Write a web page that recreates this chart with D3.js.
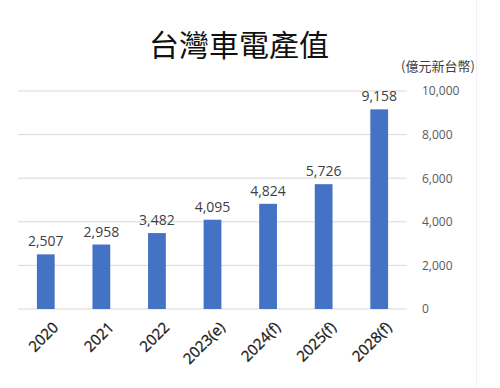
<!DOCTYPE html>
<html>
<head>
<meta charset="utf-8">
<script src="https://cdn.jsdelivr.net/npm/d3@7"></script>
<style>
  body { margin: 0; background: #fff; }
  svg { font-family: "Noto Sans CJK TC", "Open Sans", sans-serif; }
</style>
</head>
<body>
<svg id="chart" width="500" height="388"></svg>
<script>
// Data
const years = ["2020", "2021", "2022", "2023(e)", "2024(f)", "2025(f)", "2028(f)"];
const values = [2507, 2958, 3482, 4095, 4824, 5726, 9158];
const yTicks = [0, 2000, 4000, 6000, 8000, 10000];

const svg = d3.select("#chart");
const margin = { top: 91, right: 93, bottom: 79, left: 18 };
const width = 500, height = 388;
const plotWidth = width - margin.left - margin.right;
const plotHeight = height - margin.top - margin.bottom;

const g = svg.append("g").attr("transform", `translate(${margin.left},${margin.top})`);

const x = d3.scaleBand().domain(years).range([0, plotWidth]).paddingInner(0.68).paddingOuter(0.34);
const y = d3.scaleLinear().domain([0, 10000]).range([plotHeight, 0]);

// Gridlines
g.selectAll(".grid")
  .data(yTicks)
  .enter()
  .append("line")
  .attr("x1", 0)
  .attr("x2", plotWidth)
  .attr("y1", d => y(d))
  .attr("y2", d => y(d))
  .attr("stroke", "#d9d9d9")
  .attr("stroke-width", 1);

// Right axis labels
const yAxis = g.append("g")
  .attr("transform", `translate(${plotWidth + 15},0)`)
  .call(d3.axisRight(y).tickValues(yTicks).tickSize(0).tickFormat(d3.format(",")));
yAxis.select(".domain").remove();
yAxis.selectAll("text")
  .attr("x", 0)
  .style("font-size", "12px")
  .style("font-family", "Open Sans, sans-serif")
  .attr("fill", "#595959");

// Bars
g.selectAll(".bar")
  .data(values)
  .enter()
  .append("rect")
  .attr("x", (d, i) => x(years[i]))
  .attr("y", d => y(d))
  .attr("width", x.bandwidth())
  .attr("height", d => plotHeight - y(d))
  .attr("fill", "#4472c4");

// Data labels
g.selectAll(".label")
  .data(values)
  .enter()
  .append("text")
  .attr("x", (d, i) => x(years[i]) + x.bandwidth() / 2)
  .attr("y", d => y(d) - 8)
  .attr("text-anchor", "middle")
  .style("font-size", "14px")
  .style("font-family", "Open Sans, sans-serif")
  .attr("fill", "#404040")
  .text(d => d3.format(",")(d));

// X labels
g.selectAll(".xlabel")
  .data(years)
  .enter()
  .append("text")
  .attr("transform", d => `translate(${x(d) + x.bandwidth() / 2 + 6},${plotHeight + 12}) rotate(-45)`)
  .attr("text-anchor", "end")
  .attr("dy", "0.7em")
  .style("font-size", "15px")
  .style("font-family", "Open Sans, sans-serif")
  .attr("fill", "#1a1a1a")
  .attr("stroke", "#1a1a1a")
  .attr("stroke-width", 0.3)
  .text(d => d);

// Title
svg.append("text")
  .attr("x", 239)
  .attr("y", 56)
  .attr("text-anchor", "middle")
  .style("font-size", "30px")
  .attr("fill", "#111")
  .text("台灣車電產值");

// Unit
svg.append("text")
  .attr("x", 438)
  .attr("y", 71)
  .attr("text-anchor", "middle")
  .style("font-size", "13px")
  .attr("fill", "#404040")
  .text("(億元新台幣)");

// Faint right border
svg.append("line")
  .attr("x1", 476.5).attr("x2", 476.5)
  .attr("y1", 0).attr("y2", height)
  .attr("stroke", "#f0f0f0");
</script>
</body>
</html>
